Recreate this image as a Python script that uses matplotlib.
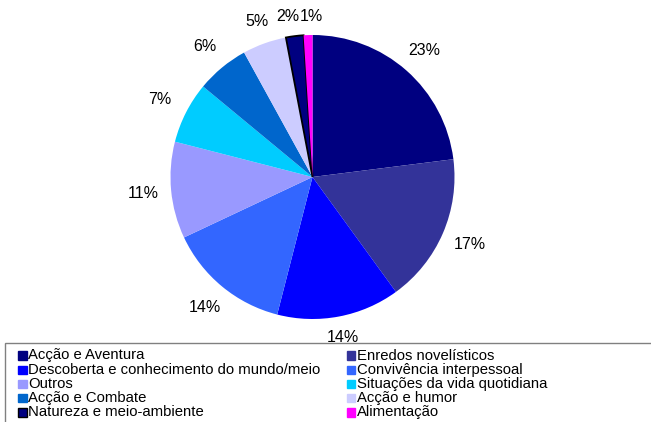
import numpy as np
import matplotlib
matplotlib.use('Agg')
import matplotlib.pyplot as plt
from matplotlib.patches import Rectangle

plt.rcParams['font.family'] = ['Liberation Sans', 'DejaVu Sans']

# categories and shares (%), clockwise from the top
categories = ['Acção e Aventura', 'Enredos novelísticos',
              'Descoberta e conhecimento do mundo/meio', 'Convivência interpessoal',
              'Outros', 'Situações da vida quotidiana',
              'Acção e Combate', 'Acção e humor',
              'Natureza e meio-ambiente', 'Alimentação']
shares = [23, 17, 14, 14, 11, 7, 6, 5, 2, 1]
colors = ['#000080', '#333399', '#0000FF', '#3366FF', '#9999FF',
          '#00CCFF', '#0066CC', '#CCCCFF', '#000080', '#FF00FF']

W, H = 651, 422
fig = plt.figure(figsize=(W / 100, H / 100), dpi=100)

# pie: centre (312.5, 177) px, radius 142 px
cx, cy, r = 312.5, 177, 142
ax = fig.add_axes([(cx - r) / W, (H - cy - r) / H, 2 * r / W, 2 * r / H])
wedges, _ = ax.pie(shares, colors=colors, startangle=90, counterclock=False,
                   wedgeprops=dict(linewidth=0))
wedges[8].set_edgecolor('black')
wedges[8].set_linewidth(1.3)
ax.set_xlim(-1, 1)
ax.set_ylim(-1, 1)
ax.set_aspect('equal')

# percentage labels placed just outside the pie, excel-like
nudge = {8: -4, 9: 4}
for i, (w, v) in enumerate(zip(wedges, shares)):
    ang = np.deg2rad((w.theta1 + w.theta2) / 2)
    ux, uy = np.cos(ang), np.sin(ang)
    d = (r + 12 + abs(ux) * 16 + abs(uy) * 6) / r
    x = d * ux + nudge.get(i, 0) / r
    ax.text(x, d * uy, f'{v}%', fontsize=11.5, ha='center', va='center')

# legend drawn in pixel coordinates on an overlay
lg = fig.add_axes([0, 0, 1, 1], zorder=-1)
lg.set_xlim(0, W)
lg.set_ylim(H, 0)
lg.axis('off')
lg.add_patch(Rectangle((5, 343), 660, 100, facecolor='white', edgecolor='#808080', linewidth=1))
for i, (name, col) in enumerate(zip(categories, colors)):
    row, c = divmod(i, 2)
    y = 355.5 + row * 14.2
    sx = 18 if c == 0 else 346.5
    ec = 'black' if i == 8 else col
    lg.add_patch(Rectangle((sx, y - 4.2), 8.5, 8.5, facecolor=col, edgecolor=ec, linewidth=1))
    lg.text(sx + 10.3, y, name, fontsize=10.7, va='center', ha='left')

fig.savefig('out.png', dpi=100)
